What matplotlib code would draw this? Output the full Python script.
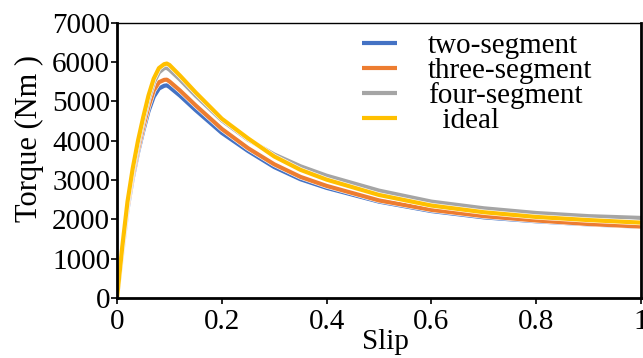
import matplotlib.pyplot as plt
import matplotlib.patheffects as pe

plt.rcParams['font.family'] = ['Liberation Serif', 'DejaVu Serif']

slip = [0, 0.01, 0.02, 0.03, 0.04, 0.05, 0.06, 0.07, 0.08, 0.09, 0.095, 0.1,
        0.12, 0.15, 0.2, 0.25, 0.3, 0.35, 0.4, 0.5, 0.6, 0.7, 0.8, 0.9, 1.0]

two_seg = [0, 1150, 2250, 3050, 3700, 4250, 4750, 5120, 5330, 5400, 5410, 5370,
           5150, 4780, 4200, 3740, 3330, 3020, 2800, 2450, 2210, 2050, 1950, 1870, 1810]
three_seg = [0, 1200, 2300, 3120, 3780, 4350, 4870, 5280, 5490, 5550, 5555, 5510,
             5280, 4900, 4300, 3810, 3400, 3080, 2850, 2480, 2240, 2080, 1970, 1880, 1815]
four_seg = [0, 1250, 2380, 3220, 3900, 4500, 5050, 5480, 5740, 5850, 5855, 5810,
            5560, 5150, 4520, 4030, 3650, 3350, 3110, 2730, 2450, 2280, 2160, 2080, 2035]
ideal = [0, 1300, 2450, 3300, 4000, 4600, 5150, 5580, 5850, 5950, 5965, 5930,
         5660, 5230, 4560, 4060, 3600, 3260, 3010, 2620, 2350, 2180, 2060, 1980, 1915]

labels = ['two-segment', 'three-segment', 'four-segment', '  ideal']
colors = ['#4472C4', '#ED7D31', '#A5A5A5', '#FFC000']

fig = plt.figure(figsize=(6.43, 3.58), dpi=100)
ax = fig.add_axes([0.182, 0.168, 0.815, 0.768])

# white halo around each curve so overlapping lines stay separate
outline = [pe.Stroke(linewidth=3.8, foreground='white'), pe.Normal()]
for y, c, lab in zip([two_seg, three_seg, four_seg, ideal], colors, labels):
    ax.plot(slip, y, color=c, lw=3, label=lab, path_effects=outline,
            solid_capstyle='butt')

ax.set_xlim(0, 1)
ax.set_ylim(0, 7000)
ax.set_xticks([0, 0.2, 0.4, 0.6, 0.8, 1])
ax.set_xticklabels(['0', '0.2', '0.4', '0.6', '0.8', '1'])
ax.set_yticks(range(0, 7001, 1000))
ax.tick_params(labelsize=21, direction='out', length=4, width=1.2)
ax.tick_params(axis='x', pad=4)
ax.tick_params(axis='y', pad=1)

ax.set_xlabel('Slip', fontsize=21)
ax.xaxis.set_label_coords(0.513, -0.115)
ax.set_ylabel('Torque (Nm )', fontsize=22)
ax.yaxis.set_label_coords(-0.14, 0.58)

for side in ['left', 'bottom', 'right']:
    ax.spines[side].set_linewidth(2)
ax.spines['top'].set_linewidth(1)

leg = ax.legend(loc='upper left', bbox_to_anchor=(0.468, 0.965), frameon=False,
                fontsize=21, handlelength=1.2, handletextpad=1.05,
                labelspacing=-0.05, borderaxespad=0, borderpad=0)
for line in leg.get_lines():
    line.set_linewidth(3)
    line.set_path_effects([])

fig.savefig('out.png', dpi=100)
